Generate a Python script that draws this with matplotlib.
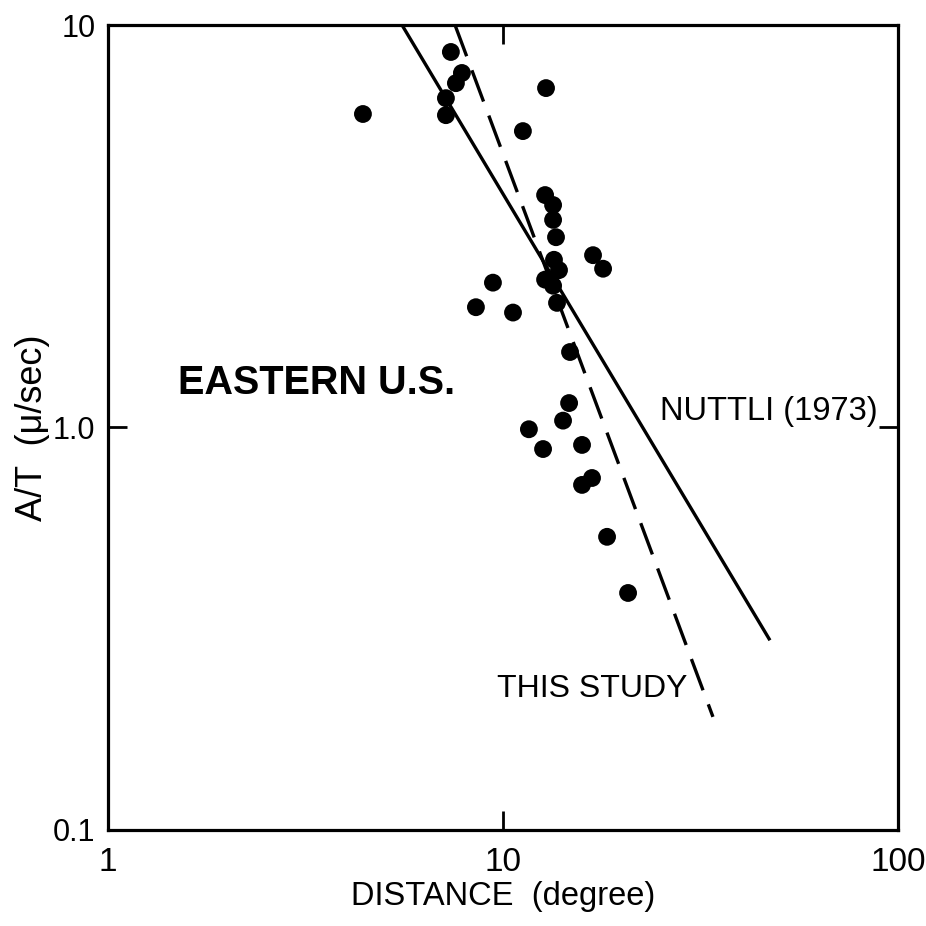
import matplotlib
matplotlib.use("Agg")
import matplotlib.pyplot as plt
from matplotlib.ticker import FixedLocator, FixedFormatter, NullLocator

plt.rcParams['font.family'] = ['Liberation Sans', 'DejaVu Sans']

# Observed A/T amplitudes versus epicentral distance
distance_deg = [4.42, 7.38, 7.87, 7.60, 7.17, 7.17, 12.85, 11.23, 12.78, 13.39,
                13.39, 13.62, 13.46, 13.86, 16.90, 17.92, 12.78, 13.39, 9.43, 8.54,
                10.60, 13.70, 14.78, 14.70, 14.19, 11.63, 12.63, 15.85, 15.85, 16.80,
                18.34, 20.73]
at_values = [6.01, 8.57, 7.60, 7.17, 6.58, 5.97, 6.97, 5.45, 3.78, 3.57,
             3.28, 2.97, 2.61, 2.46, 2.68, 2.48, 2.33, 2.25, 2.29, 1.99,
             1.93, 2.04, 1.54, 1.15, 1.04, 0.99, 0.884, 0.905, 0.72, 0.749,
             0.535, 0.388]

# Attenuation curves
nuttli_dist = [5.55, 47.4]
nuttli_at = [10.0, 0.296]
study_dist = [7.56, 34.0]
study_at = [10.0, 0.191]

x_ticks = [1, 10, 100]
x_ticklabels = ["1", "10", "100"]
y_ticks = [0.1, 1.0, 10]
y_ticklabels = ["0.1", "1.0", "10"]

fig = plt.figure(figsize=(9.26, 9.26), dpi=100)
ax = fig.add_axes([0.1166, 0.1037, 0.8532, 0.8693])
ax.set_xscale('log')
ax.set_yscale('log')
ax.set_xlim(1, 100)
ax.set_ylim(0.1, 10)

ax.plot(nuttli_dist, nuttli_at, color='black', lw=2.4, solid_capstyle='butt')
ax.plot(study_dist, study_at, color='black', lw=2.4, dashes=(10, 4.5))
ax.scatter(distance_deg, at_values, s=165, color='black', edgecolors='none', zorder=3)

for side in ax.spines.values():
    side.set_linewidth(2.3)

ax.xaxis.set_major_locator(FixedLocator(x_ticks))
ax.xaxis.set_major_formatter(FixedFormatter(x_ticklabels))
ax.yaxis.set_major_locator(FixedLocator(y_ticks))
ax.yaxis.set_major_formatter(FixedFormatter(y_ticklabels))
ax.xaxis.set_minor_locator(NullLocator())
ax.yaxis.set_minor_locator(NullLocator())
ax.tick_params(which='major', direction='in', length=14, width=2,
               top=True, right=True)
ax.tick_params(axis='x', labelsize=24, pad=12)
ax.tick_params(axis='y', labelsize=22, pad=9)

ax.set_xlabel("DISTANCE  (degree)", fontsize=23.5)
ax.xaxis.set_label_coords(0.5, -0.063)
ax.set_ylabel("A/T  (μ/sec)", fontsize=26)
ax.yaxis.set_label_coords(-0.073, 0.5)

ax.text(1.50, 1.29, "EASTERN U.S.", fontsize=28.5, fontweight='bold',
        va='center', ha='left')
ax.text(24.97, 1.093, "NUTTLI (1973)", fontsize=23.5, va='center', ha='left')
ax.text(9.65, 0.224, "THIS STUDY", fontsize=23, va='center', ha='left')

fig.savefig("out.png", dpi=100, facecolor='white')
